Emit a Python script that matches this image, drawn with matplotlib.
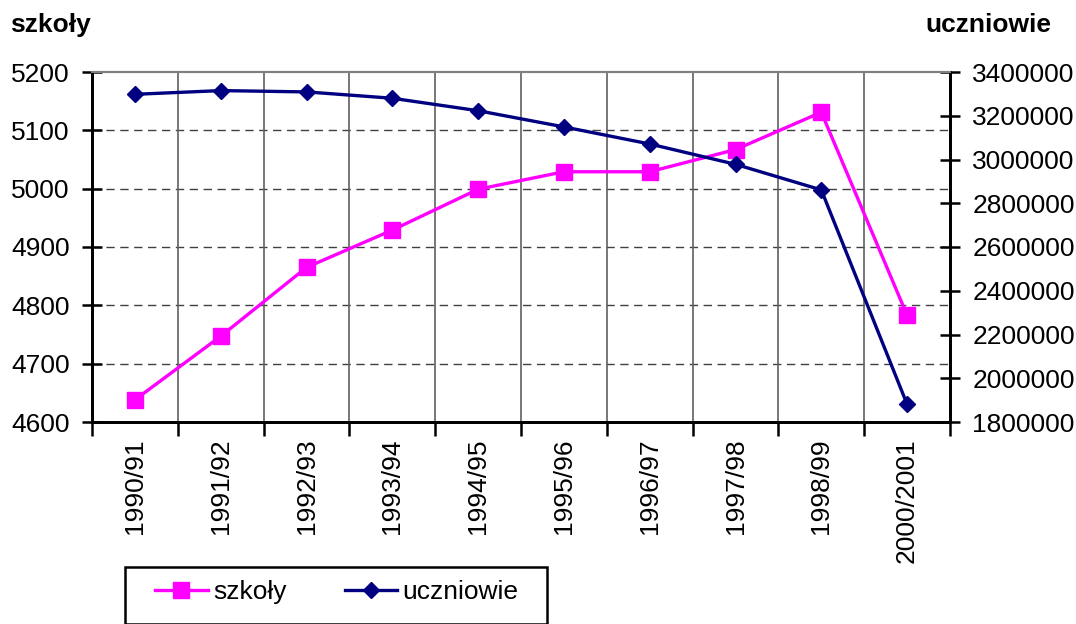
import matplotlib.pyplot as plt
from matplotlib.patches import Rectangle
import numpy as np

plt.rcParams['font.family'] = ['Liberation Sans', 'DejaVu Sans']

# data
lata = ["1990/91", "1991/92", "1992/93", "1993/94", "1994/95",
        "1995/96", "1996/97", "1997/98", "1998/99", "2000/2001"]
szkoly = [4638, 4747, 4865, 4929, 4999, 5029, 5029, 5067, 5131, 4783]
uczniowie = [3298000, 3315000, 3309000, 3280000, 3223000,
             3149000, 3071000, 2978000, 2861000, 1881000]

W, H = 1076, 624
FS = 19
fig = plt.figure(figsize=(W / 100, H / 100), dpi=100)
ax = fig.add_axes([92 / W, 1 - 422 / H, (950 - 92) / W, (422 - 72) / H])
ax2 = ax.twinx()

x = np.arange(len(lata))

# =========================
# GRID
# =========================
ax.set_xlim(-0.5, len(lata) - 0.5)
ax.set_ylim(4600, 5200)
ax.set_yticks(np.arange(4600, 5201, 100))
for yv in range(4700, 5200, 100):
    ax.axhline(yv, color='#404040', lw=1, ls=(0, (6, 4)), zorder=0)
for xv in np.arange(0.5, len(lata) - 0.5, 1):
    ax.axvline(xv, color='#606060', lw=1.2, zorder=0)

# =========================
# LINES
# =========================
l1, = ax.plot(x, szkoly, color='#FF00FF', lw=2.4, marker='s', markersize=11.5,
              label='szkoły', zorder=3)
l2, = ax2.plot(x, uczniowie, color='#000080', lw=2.4, marker='D', markersize=8,
               label='uczniowie', zorder=3)

ax2.set_ylim(1800000, 3400000)
ax2.set_yticks(np.arange(1800000, 3400001, 200000))
ax2.set_yticklabels([str(v) for v in range(1800000, 3400001, 200000)])

# x axis: ticks at category boundaries, labels in the middle
ax.set_xticks(np.arange(-0.5, len(lata), 1))
ax.set_xticklabels([])
ax.set_xticks(x, minor=True)
ax.set_xticklabels(lata, minor=True, rotation=90, fontsize=FS)
ax.tick_params(axis='x', which='minor', length=0, pad=12)
ax.tick_params(axis='x', which='major', direction='out', length=10, width=1.8)

ax.tick_params(axis='y', direction='inout', length=14, width=1.8, labelsize=FS, pad=9)
ax2.tick_params(axis='y', direction='inout', length=14, width=1.8, labelsize=FS, pad=9)

for a in (ax, ax2):
    a.spines['top'].set_color('#808080')
    a.spines['top'].set_linewidth(1.5)
    for s in ('left', 'right', 'bottom'):
        a.spines[s].set_linewidth(2)
        a.spines[s].set_color('black')

# axis titles
fig.text(10 / W, 1 - 25 / H, "szkoły", fontsize=FS, fontweight='bold', va='center')
fig.text(1051 / W, 1 - 25 / H, "uczniowie", fontsize=FS, fontweight='bold',
         va='center', ha='right')

# =========================
# LEGEND
# =========================
fig.patches.append(Rectangle((125 / W, 0), (547 - 125) / W, 1 - 573 / H + 0.01,
                             transform=fig.transFigure, fill=False,
                             edgecolor='black', lw=1.8))
fig.legend(handles=[l1, l2], loc='center left', bbox_to_anchor=(155 / W, 1 - 592 / H),
           ncol=2, frameon=False, fontsize=FS, borderpad=0, borderaxespad=0,
           handlelength=2.0, handletextpad=0.2, columnspacing=2.2)

fig.savefig("out.png", dpi=100)
